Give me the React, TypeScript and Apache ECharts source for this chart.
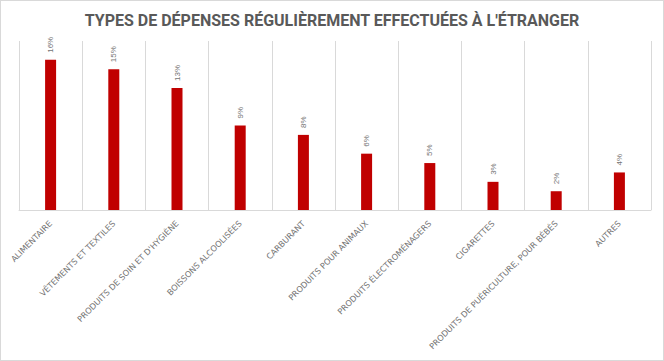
import React, { useEffect, useRef } from "react";
import * as echarts from "echarts";

const categories = [
  "ALIMENTAIRE",
  "VÊTEMENTS ET TEXTILES",
  "PRODUITS DE SOIN ET D'HYGIÈNE",
  "BOISSONS ALCOOLISÉES",
  "CARBURANT",
  "PRODUITS POUR ANIMAUX",
  "PRODUITS ÉLECTROMÉNAGERS",
  "CIGARETTES",
  "PRODUITS DE PUÉRICULTURE, POUR BÉBÉS",
  "AUTRES",
];
const values = [16, 15, 13, 9, 8, 6, 5, 3, 2, 4];
const title = "TYPES DE DÉPENSES RÉGULIÈREMENT EFFECTUÉES À L'ÉTRANGER";

export default function App() {
  const ref = useRef<HTMLDivElement>(null);
  useEffect(() => {
    document.body.style.margin = "0";
    const chart = echarts.init(ref.current!, null, { renderer: "svg" });
    chart.setOption({
      animation: false,
      backgroundColor: "#ffffff",
      title: {
        text: title,
        left: "center",
        top: 6,
        textStyle: {
          fontFamily: "Roboto",
          fontWeight: "bold",
          fontSize: 16,
          color: "#595959",
        },
      },
      grid: { left: 18, right: 12, top: 40, bottom: 150, containLabel: false },
      xAxis: {
        type: "category",
        data: categories,
        boundaryGap: true,
        axisLine: { show: true, lineStyle: { color: "#d9d9d9", width: 1 } },
        axisTick: { show: false },
        splitLine: { show: true, lineStyle: { color: "#d9d9d9", width: 1 } },
        axisLabel: {
          interval: 0,
          rotate: 45,
          margin: 12,
          fontSize: 8.2,
          fontFamily: "DejaVu Sans",
          color: "#737373",
        },
      },
      yAxis: {
        type: "value",
        min: 0,
        max: 18,
        show: false,
        splitLine: { show: false },
      },
      series: [
        {
          type: "bar",
          data: values,
          barWidth: 11,
          itemStyle: { color: "#C00000" },
          label: {
            show: true,
            position: "top",
            rotate: 90,
            align: "left",
            verticalAlign: "middle",
            distance: 7,
            fontSize: 8,
            fontFamily: "Liberation Sans",
            color: "#737373",
            formatter: "{c}%",
          },
        },
      ],
    });
    return () => chart.dispose();
  }, []);
  return (
    <div
      style={{
        position: "absolute",
        left: 0,
        top: 0,
        width: 664,
        height: 361,
        boxSizing: "border-box",
        border: "1px solid #d9d9d9",
      }}
    >
      <div ref={ref} style={{ width: 662, height: 359 }} />
    </div>
  );
}
